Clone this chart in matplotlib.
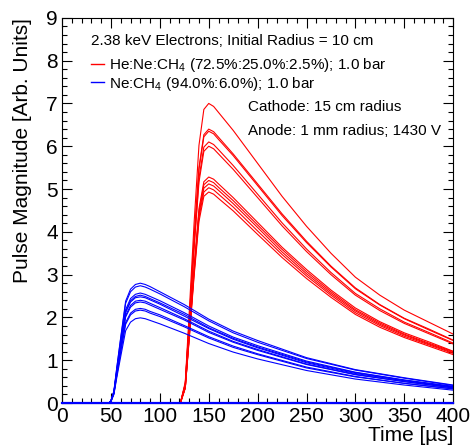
import matplotlib
matplotlib.use("Agg")
import matplotlib.pyplot as plt
from matplotlib.lines import Line2D
from matplotlib.ticker import MultipleLocator

plt.rcParams['font.family'] = ['Liberation Sans', 'DejaVu Sans']
plt.rcParams['mathtext.fontset'] = 'custom'
plt.rcParams['mathtext.rm'] = 'Liberation Sans'
plt.rcParams['mathtext.it'] = 'Liberation Sans:italic'

# He:Ne:CH4 pulses (red)
t_red = [0, 121, 126, 130, 135, 140, 145, 150, 155, 160, 175, 200, 225, 250, 275, 300, 325, 350, 375, 400]
red_pulses = [
    [0, 0, 0.49, 2.10, 4.20, 6.02, 6.86, 7.00, 6.93, 6.79, 6.37, 5.60, 4.83, 4.13, 3.50, 2.94, 2.52, 2.17, 1.89, 1.61],
    [0, 0, 0.45, 1.92, 3.84, 5.50, 6.27, 6.40, 6.34, 6.21, 5.82, 5.12, 4.42, 3.78, 3.20, 2.69, 2.30, 1.98, 1.73, 1.47],
    [0, 0, 0.44, 1.91, 3.81, 5.46, 6.22, 6.35, 6.29, 6.16, 5.78, 5.08, 4.38, 3.75, 3.18, 2.67, 2.29, 1.97, 1.71, 1.46],
    [0, 0, 0.43, 1.83, 3.66, 5.25, 5.98, 6.10, 6.04, 5.92, 5.55, 4.88, 4.21, 3.60, 3.05, 2.56, 2.20, 1.89, 1.65, 1.40],
    [0, 0, 0.42, 1.80, 3.60, 5.16, 5.88, 6.00, 5.94, 5.82, 5.46, 4.80, 4.14, 3.54, 3.00, 2.52, 2.16, 1.86, 1.62, 1.38],
    [0, 0, 0.37, 1.58, 3.17, 4.54, 5.17, 5.28, 5.23, 5.12, 4.80, 4.22, 3.64, 3.12, 2.64, 2.22, 1.90, 1.64, 1.43, 1.21],
    [0, 0, 0.36, 1.56, 3.12, 4.47, 5.10, 5.20, 5.15, 5.04, 4.73, 4.16, 3.59, 3.07, 2.60, 2.18, 1.87, 1.61, 1.40, 1.20],
    [0, 0, 0.36, 1.54, 3.07, 4.40, 5.02, 5.12, 5.07, 4.97, 4.66, 4.10, 3.53, 3.02, 2.56, 2.15, 1.84, 1.59, 1.38, 1.18],
    [0, 0, 0.35, 1.51, 3.02, 4.33, 4.93, 5.03, 4.98, 4.88, 4.58, 4.02, 3.47, 2.97, 2.52, 2.11, 1.81, 1.56, 1.36, 1.16],
    [0, 0, 0.35, 1.48, 2.96, 4.24, 4.83, 4.93, 4.88, 4.78, 4.49, 3.94, 3.40, 2.91, 2.47, 2.07, 1.77, 1.53, 1.33, 1.13],
]

# Ne:CH4 pulses (blue)
t_blue = [0, 48, 50, 53, 56, 60, 65, 70, 75, 80, 85, 90, 100, 125, 150, 175, 200, 250, 300, 350, 400]
blue_pulses = [
    [0, 0, 0.06, 0.28, 0.84, 1.54, 2.38, 2.66, 2.77, 2.80, 2.77, 2.72, 2.60, 2.30, 1.96, 1.68, 1.46, 1.06, 0.78, 0.59, 0.42],
    [0, 0, 0.05, 0.27, 0.82, 1.51, 2.33, 2.60, 2.71, 2.74, 2.71, 2.66, 2.55, 2.25, 1.92, 1.64, 1.42, 1.04, 0.77, 0.58, 0.41],
    [0, 0, 0.05, 0.26, 0.77, 1.41, 2.18, 2.44, 2.54, 2.57, 2.54, 2.49, 2.39, 2.11, 1.80, 1.54, 1.34, 0.98, 0.72, 0.54, 0.39],
    [0, 0, 0.05, 0.25, 0.76, 1.39, 2.14, 2.39, 2.49, 2.52, 2.49, 2.44, 2.34, 2.07, 1.76, 1.51, 1.31, 0.96, 0.71, 0.53, 0.38],
    [0, 0, 0.05, 0.25, 0.74, 1.36, 2.11, 2.36, 2.46, 2.48, 2.46, 2.41, 2.31, 2.03, 1.74, 1.49, 1.29, 0.94, 0.69, 0.52, 0.37],
    [0, 0, 0.05, 0.24, 0.72, 1.32, 2.04, 2.28, 2.38, 2.40, 2.38, 2.33, 2.23, 1.97, 1.68, 1.44, 1.25, 0.91, 0.67, 0.50, 0.36],
    [0, 0, 0.05, 0.24, 0.71, 1.30, 2.01, 2.24, 2.34, 2.36, 2.34, 2.29, 2.19, 1.94, 1.65, 1.42, 1.23, 0.90, 0.66, 0.50, 0.35],
    [0, 0, 0.04, 0.22, 0.66, 1.22, 1.88, 2.10, 2.19, 2.21, 2.19, 2.14, 2.06, 1.81, 1.55, 1.33, 1.15, 0.84, 0.62, 0.46, 0.33],
    [0, 0, 0.04, 0.22, 0.65, 1.19, 1.84, 2.06, 2.15, 2.17, 2.15, 2.10, 2.02, 1.78, 1.52, 1.30, 1.13, 0.82, 0.61, 0.46, 0.33],
    [0, 0, 0.04, 0.20, 0.60, 1.09, 1.69, 1.89, 1.97, 1.99, 1.97, 1.93, 1.85, 1.63, 1.39, 1.19, 1.03, 0.76, 0.56, 0.42, 0.30],
]

fig = plt.figure(figsize=(4.74, 4.46), dpi=100)
ax = fig.add_axes([0.131, 0.0964, 0.825, 0.8636])

for y in red_pulses:
    ax.plot(t_red, y, color='#ff0000', lw=0.8, clip_on=False)
for y in blue_pulses:
    ax.plot(t_blue, y, color='#0000ff', lw=0.8, clip_on=False)
# blue baseline along zero, as in the original
ax.axhline(0, color='#0000ff', lw=1.6, clip_on=False, zorder=3)

ax.set_xlim(0, 400)
ax.set_ylim(0, 9)
ax.xaxis.set_major_locator(MultipleLocator(50))
ax.xaxis.set_minor_locator(MultipleLocator(10))
ax.yaxis.set_major_locator(MultipleLocator(1))
ax.yaxis.set_minor_locator(MultipleLocator(0.2))
ax.tick_params(which='both', direction='in', top=True, right=True, width=0.8)
ax.tick_params(which='major', length=7, labelsize=15)
ax.tick_params(which='minor', length=3.5)
ax.tick_params(axis='x', pad=3)
ax.tick_params(axis='y', pad=3)
for s in ax.spines.values():
    s.set_linewidth(0.8)

ax.set_xlabel('Time [µs]', loc='right', fontsize=15, labelpad=0)
ax.set_ylabel('Pulse Magnitude [Arb. Units]', loc='top', fontsize=15, labelpad=10)

handles = [Line2D([], [], color='#ff0000', lw=1.0),
           Line2D([], [], color='#0000ff', lw=1.0)]
labels = ['He:Ne:CH$_4$ (72.5%:25.0%:2.5%); 1.0 bar',
          'Ne:CH$_4$ (94.0%:6.0%); 1.0 bar']
leg = ax.legend(handles, labels, title='2.38 keV Electrons; Initial Radius = 10 cm',
                loc='upper left', bbox_to_anchor=(0.042, 0.99), frameon=False,
                fontsize=11, title_fontsize=11, alignment='left',
                handlelength=0.9, handletextpad=0.3, labelspacing=0.02,
                borderpad=0.5, borderaxespad=0.3)
leg._legend_box.sep = 6

ax.text(0.476, 0.769, 'Cathode: 15 cm radius', transform=ax.transAxes,
        fontsize=11, va='center')
ax.text(0.476, 0.706, 'Anode: 1 mm radius; 1430 V', transform=ax.transAxes,
        fontsize=11, va='center')

fig.savefig('out.png', dpi=100)
